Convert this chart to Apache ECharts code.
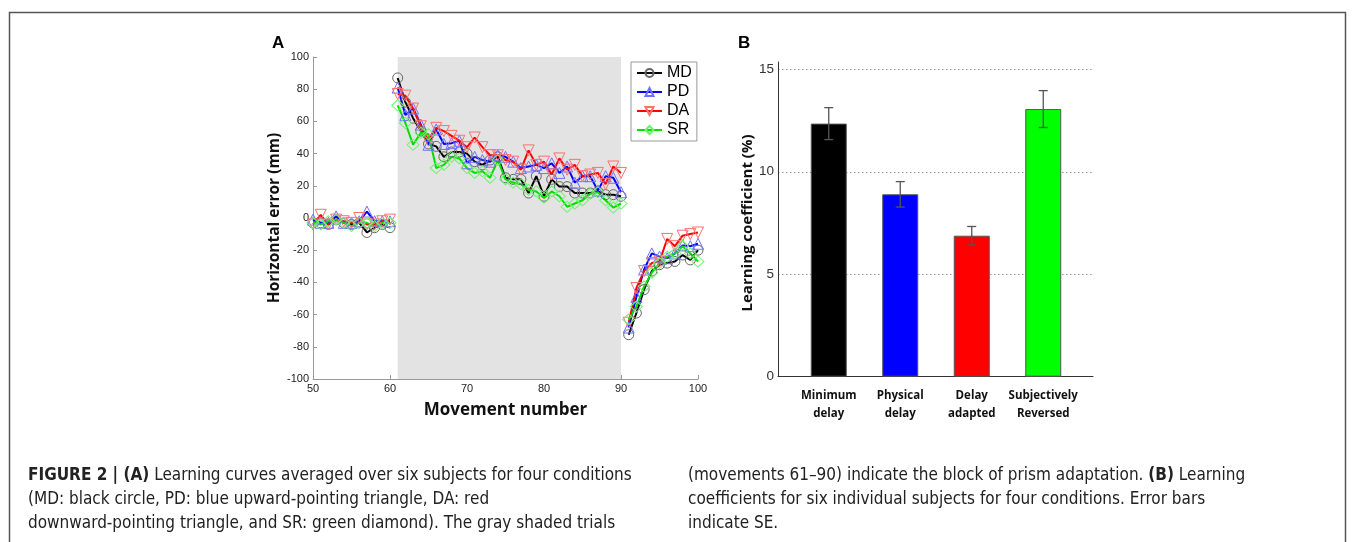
<!DOCTYPE html>
<html><head><meta charset="utf-8">
<script src="https://cdn.jsdelivr.net/npm/echarts@6/dist/echarts.min.js"></script>
<style>html,body{margin:0;padding:0;background:#fff}#c{width:1357px;height:542px}</style>
</head><body><div id="c"></div><script>
// ---------- Panel A data ----------
const movements = [50,51,52,53,54,55,56,57,58,59,60,
  61,62,63,64,65,66,67,68,69,70,71,72,73,74,75,76,77,78,79,80,81,82,83,84,85,86,87,88,89,90,
  91,92,93,94,95,96,97,98,99,100];
const blockStart = 61, blockEnd = 90;
const mdError = [-3,-3,-4,-1,-3,-4,-3,-9,-6,-4,-6,
  87,72,62,54,46,44.5,38,41,41,40,35,33,36,38,25,24,24,15.5,26,13.5,24,19.5,19.5,15.5,15.5,15.5,16.5,14.5,14.5,13.5,
  -72.5,-59,-44.5,-33,-29,-28,-27,-23,-26,-20];
const pdError = [-1,-3,-3,1,-3,-3,-2,4,-2,-2,-2,
  81,64,68,58,45.5,55,46,46.5,48,34,38,36,35,39,38,35,31,32,33,31,34,28,32,22,26,26,17,26,25,16,
  -68,-49,-32,-22,-24,-25,-22,-17,-17.5,-16];
const daError = [-4,2,-4,-1,-2,-3,0,-4,-4,-2,-1,
  77,76,68,57,48,56,54,51,48,44,50,44,39,39,36,35,30,42,33,35,27,37,30,33,26,27,28,21,32,28,
  -65,-43.5,-33,-28,-27,-13,-17.5,-11,-10,-9];
const srError = [-3,-4,-2,-1,-3,-5,-3,-3,-5,-3,-3,
  70,59,45.5,53,52,31,33,38,37,31,28,29,25,36,24,22,21,17.5,16.5,12.5,16.5,13.5,7,9,11,15,16,11,6.5,9,
  -63,-55,-42.5,-34,-28,-24,-22,-17.5,-22,-27];
const seriesNames = ['MD','PD','DA','SR'];

// ---------- Panel B data ----------
const barCategories = ['Minimum\ndelay','Physical\ndelay','Delay\nadapted','Subjectively\nReversed'];
const barMeans = [12.35, 8.9, 6.88, 13.06];
const barSE = [0.78, 0.62, 0.45, 0.9];
const barColors = ['#000000','#0000ff','#ff0000','#00ff00'];

function lineData(vals){
  const out = [];
  movements.forEach((m,i)=>{
    out.push([m, vals[i]]);
    if (m === blockStart - 1 || m === blockEnd) out.push([m + 0.5, '-']);
  });
  return out;
}
function lineSeries(name, vals, lineColor, markColor, symbol, rot, size){
  return {
    name, type:'line', xAxisIndex:0, yAxisIndex:0, data: lineData(vals),
    symbol, symbolRotate: rot, symbolSize: size, showAllSymbol: true,
    lineStyle:{color:lineColor, width:2},
    itemStyle:{color:'rgba(0,0,0,0)', borderColor:markColor, borderWidth:1},
    emphasis:{disabled:true}, z:3
  };
}

const chart = echarts.init(document.getElementById('c'), null, {renderer:'canvas'});
const capFont = '"Liberation Sans Narrow","DejaVu Sans Condensed",sans-serif';
const capStyle = (txt, x, y) => ({type:'text', left:x, top:y, silent:true,
  style:{text:txt, fontFamily:capFont, fontSize:17, fill:'#222',
    rich:{b:{fontWeight:'bold', fontFamily:capFont, fontSize:17, fill:'#222'}}}});

const sans = '"Liberation Sans",Arial,sans-serif';
const opt = {
  animation:false,
  backgroundColor:'#fff',
  grid:[
    {left:313, right:659, top:57, bottom:163},
    {left:778, right:264, top:62, bottom:165.3},
    {left:778, right:264, top:69.3, bottom:165.3},
    {left:793, right:278, top:69.3, bottom:165.3}
  ],
  xAxis:[
    {gridIndex:0, type:'value', min:50, max:100, interval:10,
     axisLine:{onZero:false, lineStyle:{color:'#999'}},
     axisTick:{inside:true, length:4, lineStyle:{color:'#999'}},
     axisLabel:{color:'#222', fontSize:11, margin:4, fontFamily:sans},
     splitLine:{show:false},
     name:'Movement number', nameLocation:'middle', nameGap:23,
     nameTextStyle:{fontSize:17, fontWeight:'bold', fontFamily:'"Open Sans",sans-serif', color:'#111'}},
    {gridIndex:1, type:'value', min:0, max:1,
     axisLine:{onZero:false, lineStyle:{color:'#333', width:1}}, axisTick:{show:false},
     axisLabel:{show:false}, splitLine:{show:false}},
    {gridIndex:2, type:'value', min:0, max:1, show:false},
    {gridIndex:3, type:'category', data:barCategories,
     axisLine:{show:false}, axisTick:{show:false},
     axisLabel:{color:'#111', fontSize:11.5, fontWeight:'bold', fontFamily:'"Open Sans",sans-serif', lineHeight:18, margin:10, interval:0}}
  ],
  yAxis:[
    {gridIndex:0, type:'value', min:-100, max:100, interval:20,
     axisLine:{show:true, onZero:false, lineStyle:{color:'#999'}},
     axisTick:{show:true, inside:true, length:4, lineStyle:{color:'#999'}},
     axisLabel:{color:'#222', fontSize:11, margin:4, fontFamily:sans},
     splitLine:{show:false},
     name:'Horizontal error (mm)', nameLocation:'middle', nameGap:30,
     nameTextStyle:{fontSize:15.5, fontWeight:'bold', fontFamily:'"Open Sans",sans-serif', color:'#111'}},
    {gridIndex:1, type:'value', min:0, max:15.4,
     axisLine:{show:true, onZero:false, lineStyle:{color:'#333', width:1}}, axisTick:{show:false},
     axisLabel:{show:false}, splitLine:{show:false}},
    {gridIndex:2, type:'value', min:0, max:15, interval:5,
     axisLine:{show:false}, axisTick:{show:false},
     axisLabel:{color:'#333', fontSize:13.5, margin:4, fontFamily:sans},
     splitLine:{show:true, showMinLine:false, lineStyle:{color:'#999', type:[1.5,2.5], width:1}},
     name:'Learning coefficient (%)', nameLocation:'middle', nameGap:20,
     nameTextStyle:{fontSize:15, fontWeight:'bold', fontFamily:'"Open Sans",sans-serif', color:'#111'}},
    {gridIndex:3, type:'value', min:0, max:15, show:false}
  ],
  legend:{
    data:seriesNames, orient:'vertical', left:631, top:62,
    itemWidth:25, itemHeight:10, itemGap:3,
    padding:[3,5,3,5], borderColor:'#999', borderWidth:1, backgroundColor:'#fff',
    textStyle:{fontSize:16, color:'#000', fontFamily:sans}, selectedMode:false
  },
  series:[
    Object.assign(lineSeries('MD', mdError, '#000', '#666', 'circle', 0, 10), {
      markArea:{silent:true, itemStyle:{color:'#e3e3e3'}, data:[[{xAxis:blockStart},{xAxis:blockEnd}]]}
    }),
    lineSeries('PD', pdError, '#0000ff', '#7070ff', 'triangle', 0, 11),
    lineSeries('DA', daError, '#ff0000', '#ff6f6f', 'triangle', 180, 11),
    lineSeries('SR', srError, '#00e000', '#70f070', 'diamond', 0, [12,11]),
    {type:'bar', xAxisIndex:3, yAxisIndex:3, barWidth:36,
     data: barMeans.map((v,i)=>({value:v, itemStyle:{color:barColors[i]}})),
     itemStyle:{borderColor:'#555', borderWidth:1}, emphasis:{disabled:true}, z:2},
    {type:'custom', xAxisIndex:3, yAxisIndex:3, z:4,
     data: barMeans.map((v,i)=>[i, v - barSE[i], v + barSE[i]]),
     encode:{x:0, y:[1,2]},
     renderItem:(params, api)=>{
       const x = api.value(0);
       const lo = api.coord([x, api.value(1)]);
       const hi = api.coord([x, api.value(2)]);
       const hw = 4.5;
       const st = {stroke:'#555', lineWidth:1.3};
       return {type:'group', children:[
         {type:'line', shape:{x1:lo[0], y1:lo[1], x2:hi[0], y2:hi[1]}, style:st},
         {type:'line', shape:{x1:lo[0]-hw, y1:lo[1], x2:lo[0]+hw, y2:lo[1]}, style:st},
         {type:'line', shape:{x1:hi[0]-hw, y1:hi[1], x2:hi[0]+hw, y2:hi[1]}, style:st}
       ]};
     }}
  ],
  graphic:[
    {type:'rect', silent:true, shape:{x:9.5, y:12.5, width:1336, height:560},
     style:{fill:'none', stroke:'#555', lineWidth:1.5}},
    {type:'text', left:272, top:35, silent:true, style:{text:'A', fontSize:17, fontWeight:'bold', fontFamily:sans, fill:'#000'}},
    {type:'text', left:738, top:35, silent:true, style:{text:'B', fontSize:17, fontWeight:'bold', fontFamily:sans, fill:'#000'}},
    capStyle('{b|FIGURE 2 | (A)} Learning curves averaged over six subjects for four conditions', 28, 467),
    capStyle('(MD: black circle, PD: blue upward-pointing triangle, DA: red', 28, 491),
    capStyle('downward-pointing triangle, and SR: green diamond). The gray shaded trials', 28, 515),
    capStyle('(movements 61–90) indicate the block of prism adaptation. {b|(B)} Learning', 688, 467),
    capStyle('coefficients for six individual subjects for four conditions. Error bars', 688, 491),
    capStyle('indicate SE.', 688, 515)
  ]
};
chart.setOption(opt);
</script></body></html>
